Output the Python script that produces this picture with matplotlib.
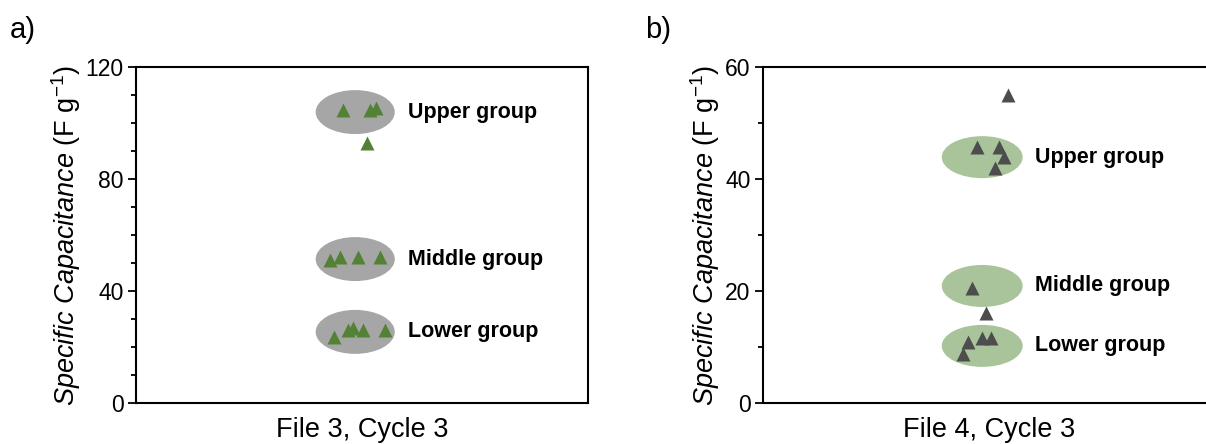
import matplotlib
matplotlib.use("Agg")
from matplotlib import pyplot as plt
from matplotlib.patches import Ellipse
import numpy as np

plt.rcParams['font.family'] = ['Liberation Sans', 'DejaVu Sans']
plt.rcParams['mathtext.fontset'] = 'custom'
plt.rcParams['mathtext.rm'] = 'Liberation Sans'
plt.rcParams['mathtext.it'] = 'Liberation Sans:italic'
plt.rcParams['mathtext.bf'] = 'Liberation Sans:bold'

# ---- data ----
group_names = ["Upper group", "Middle group", "Lower group"]

# panel a : File 3, Cycle 3
a_x = [4.58, 5.18, 5.31, 5.11, 4.29, 4.51, 4.91, 5.40, 4.38, 4.69, 4.80, 5.02, 5.51]
a_y = [104.6, 104.8, 105.4, 92.9, 51.1, 52.2, 52.1, 52.3, 23.6, 26.1, 26.8, 26.1, 26.1]
a_group_y = [103.9, 51.4, 25.4]

# panel b : File 4, Cycle 3
b_x = [5.42, 4.73, 5.22, 5.33, 5.13, 4.62, 4.93, 4.54, 4.85, 5.04, 4.42]
b_y = [55.0, 45.7, 45.7, 43.9, 42.0, 20.5, 16.1, 10.9, 11.6, 11.6, 8.75]
b_group_y = [43.9, 20.9, 10.2]

fig = plt.figure(figsize=(12.06, 4.44), dpi=100)

ylab = r"$\it{Specific\ Capacitance}$ (F g$^{-1}$)"


def panel(rect, xs, ys, group_y, ymax, major, ell_w, ell_h, ell_c, mark_c, xlabel):
    ax = fig.add_axes(rect)
    ax.set_xlim(0, 10)
    ax.set_ylim(0, ymax)
    # group ellipses
    for gy, name in zip(group_y, group_names):
        ax.add_patch(Ellipse((4.85, gy), ell_w, ell_h, facecolor=ell_c, edgecolor='none', zorder=1))
        ax.text(6.02, gy, name, fontsize=15.5, fontweight='bold', va='center', ha='left')
    ax.plot(xs, ys, '^', ms=9.5, color=mark_c, mec='none', zorder=3)

    ax.set_yticks(np.arange(0, ymax + 1, major))
    ax.set_yticks(np.arange(0, ymax + 1, 10), minor=True)
    ax.set_xticks([])
    ax.tick_params(axis='y', which='major', direction='out', length=6, width=1.3, labelsize=16.5, pad=3)
    ax.tick_params(axis='y', which='minor', direction='out', length=3.5, width=1.3)
    for s in ax.spines.values():
        s.set_linewidth(1.5)
    ax.set_ylabel(ylab, fontsize=19.5, labelpad=2)
    ax.set_xlabel(xlabel, fontsize=19.5, labelpad=10)
    return ax


panel([136 / 1206, 41 / 444, 452 / 1206, 336 / 444], a_x, a_y, a_group_y, 120, 40,
      1.75, 15.7, '#a6a6a6', '#538135', "File 3, Cycle 3")
axb = panel([763 / 1206, 41 / 444, 452 / 1206, 336 / 444], b_x, b_y, b_group_y, 60, 20,
            1.79, 7.5, '#a9c49a', '#4d4d4d', "File 4, Cycle 3")
axb.spines['right'].set_visible(False)

fig.text(0.008, 0.965, "a)", fontsize=21, va='top', ha='left')
fig.text(0.535, 0.965, "b)", fontsize=21, va='top', ha='left')

plt.savefig("out.png", dpi=100)
